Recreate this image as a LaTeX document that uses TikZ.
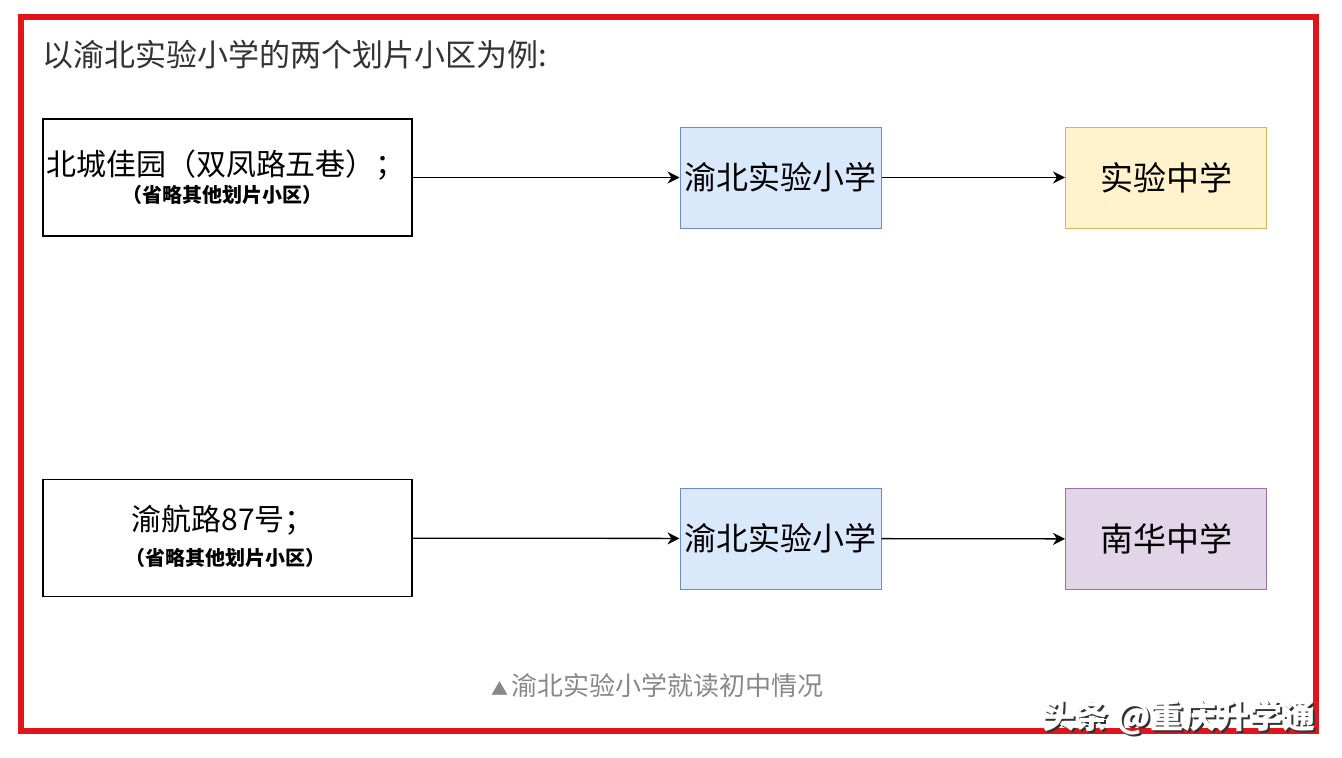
\documentclass[tikz,border=0pt]{standalone}
\usepackage{fontspec}
\newfontfamily\cjk{Noto Sans CJK SC}
\setmainfont{Noto Sans CJK SC}
\usepackage{xcolor}
\usetikzlibrary{arrows.meta}

\definecolor{framered}{HTML}{E0141A}
\definecolor{blueFill}{HTML}{DAE8FC}
\definecolor{blueLine}{HTML}{6C8EBF}
\definecolor{yellowFill}{HTML}{FFF2CC}
\definecolor{yellowLine}{HTML}{D6B656}
\definecolor{purpleFill}{HTML}{E1D5E7}
\definecolor{purpleLine}{HTML}{9673A6}
\definecolor{titlegray}{HTML}{333333}
\definecolor{capgray}{HTML}{888888}

\tikzset{
  areabox/.style={draw=black, line width=1.3pt, fill=white, minimum width=369pt, minimum height=117pt, inner sep=0pt},
  areatext/.style={inner sep=0pt, font=\fontsize{30}{36}\selectfont},
  areanote/.style={inner sep=0pt, font=\fontsize{20}{24}\selectfont\bfseries},
  schoolbox/.style={line width=1pt, minimum width=201pt, minimum height=101pt, inner sep=0pt},
  link/.style={line width=1.3pt, -{Stealth[length=12pt,width=12pt]}}
}

\begin{document}
\begin{tikzpicture}[x=1pt,y=-1pt]

			%--- Khung ---
			\useasboundingbox (0,0) rectangle (1342,758);
			\fill[white] (0,0) rectangle (1342,758);
			\draw[framered, line width=6pt] (20.5,17) rectangle (1315.5,730.5);

			%--- Tiêu đề ---
			\node[anchor=west, inner sep=0pt, text=titlegray] (title) at (42,55)
				{\fontsize{31}{36}\selectfont 以渝北实验小学的两个划片小区为例:};

			%--- Hàng trên ---
			\node[areabox] (areaA) at (227.5,177.5) {};
			\node[areatext] (areaAname) at (226,165) {北城佳园（双凤路五巷）；};
			\node[areanote] (areaAnote) at (222,195) {（省略其他划片小区）};
			\node[schoolbox, draw=blueLine, fill=blueFill, font=\fontsize{32}{38}\selectfont] (primA) at (780.5,177.5) {渝北实验小学};
			\node[schoolbox, draw=yellowLine, fill=yellowFill, font=\fontsize{33}{38}\selectfont] (midA) at (1166,177.5) {实验中学};

			\draw[link] (areaA) -- (primA);
			\draw[link] (primA) -- (midA);

			%--- Hàng dưới ---
			\node[areabox] (areaB) at (227.5,538) {};
			\node[areatext] (areaBname) at (223,520) {渝航路87号；};
			\node[areanote] (areaBnote) at (225,558) {（省略其他划片小区）};
			\node[schoolbox, draw=blueLine, fill=blueFill, font=\fontsize{32}{38}\selectfont] (primB) at (780.5,538.5) {渝北实验小学};
			\node[schoolbox, draw=purpleLine, fill=purpleFill, font=\fontsize{33}{38}\selectfont] (midB) at (1166,539) {南华中学};

			\draw[link] (areaB) -- (primB);
			\draw[link] (primB) -- (midB);

			%--- Chú thích ---
			\node[text=capgray, inner sep=0pt] (caption) at (657,686)
				{{\fontsize{17}{20}\selectfont ▲}\hspace{3pt}\fontsize{26}{30}\selectfont 渝北实验小学就读初中情况};

			%--- Watermark ---
			\node[anchor=east, inner sep=0pt, text=black!80] (markshadow) at (1318,719)
				{\fontsize{33}{38}\selectfont\bfseries 头条 @重庆升学通};
			\node[anchor=east, inner sep=0pt, text=white] (mark) at (1316,717)
				{\fontsize{33}{38}\selectfont\bfseries 头条 @重庆升学通};

		\end{tikzpicture}
\end{document}
